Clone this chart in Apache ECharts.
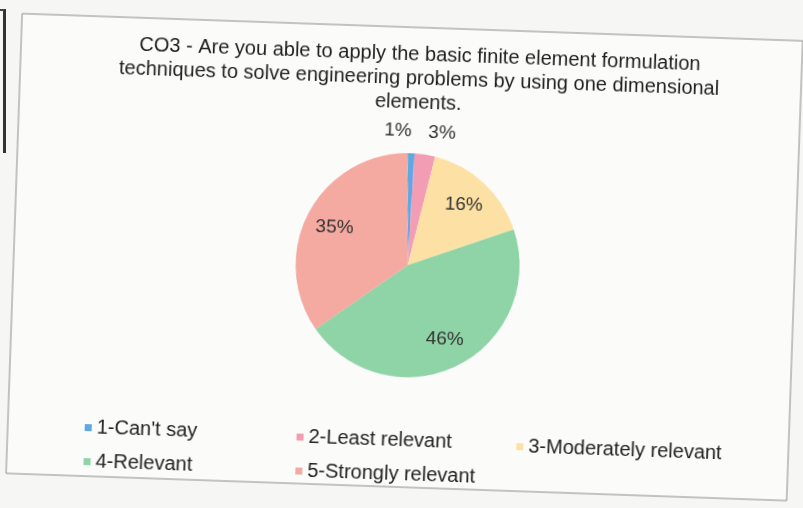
<!DOCTYPE html>
<html>
<head>
<meta charset="utf-8">
<script src="https://cdn.jsdelivr.net/npm/echarts@6/dist/echarts.min.js"></script>
<style>
  html, body { margin: 0; padding: 0; background: #f6f6f4; overflow: hidden; }
  #wrap { position: relative; width: 803px; height: 508px; }
  #chart { position: absolute; left: 0; top: 0; width: 803px; height: 508px; transform: rotate(2deg); transform-origin: 50% 50%; }
  #edge { position: absolute; left: 0; top: 9px; width: 3px; height: 142px; border-top: 2px solid #444; border-right: 3px solid #333; }
</style>
</head>
<body>
<div id="wrap">
  <div id="chart"></div>
  <div id="edge"></div>
</div>
<script>
// ---- data ----
const categories = ["1-Can't say", "2-Least relevant", "3-Moderately relevant", "4-Relevant", "5-Strongly relevant"];
const values = [1, 3, 16, 46, 35];
const colors = ['#5ea8e6', '#f39db4', '#fde1a4', '#8fd4a7', '#f4a9a1'];
const titleLines = [
  'CO3 - Are you able to apply the basic finite element formulation',
  'techniques to solve engineering problems by using one dimensional',
  'elements.'
];
const outsideLabels = [0, 1];          // small slices labelled outside
const legendColumns = [[0, 3], [1, 4], [2]];

// ---- chart ----
const chart = echarts.init(document.getElementById('chart'), null, { renderer: 'canvas' });
const FONT = '"Liberation Sans", Arial, sans-serif';
const center = [408, 265];
const R = 112;

const mainData = categories.map((name, i) => ({
  name: name,
  value: values[i],
  itemStyle: { color: colors[i] },
  label: { show: outsideLabels.indexOf(i) >= 0 }
}));
const labelData = categories.map((name, i) => ({
  name: name,
  value: values[i],
  itemStyle: { color: 'rgba(0,0,0,0)' },
  label: { show: outsideLabels.indexOf(i) < 0 }
}));

const legendLefts = [86, 298, 518];
const legendTops = [423, 425, 427];
const legends = legendColumns.map((col, k) => ({
  orient: 'vertical',
  left: legendLefts[k],
  top: legendTops[k],
  itemWidth: 7,
  itemHeight: 7,
  itemGap: 13,
  icon: 'rect',
  selectedMode: false,
  textStyle: { fontFamily: FONT, fontSize: 20, lineHeight: 21, color: '#222' },
  data: col.map(i => ({ name: categories[i], itemStyle: { color: colors[i] } }))
}));

const option = {
  backgroundColor: 'transparent',
  animation: false,
  title: {
    text: titleLines.join('\n'),
    left: 408,
    top: 37,
    textAlign: 'center',
    textStyle: { fontFamily: FONT, fontSize: 20, lineHeight: 24, fontWeight: 'normal', color: '#1e1e1e' }
  },
  legend: legends,
  graphic: [{
    type: 'rect',
    silent: true,
    z: -10,
    shape: { x: 14, y: 27, width: 781, height: 460 },
    style: { fill: '#fbfbfa', stroke: '#8c8c8c', lineWidth: 1 }
  }],
  series: [{
    type: 'pie',
    center: center,
    radius: [0, R],
    startAngle: 92,
    clockwise: true,
    avoidLabelOverlap: false,
    emphasis: { disabled: true },
    itemStyle: { borderWidth: 0 },
    label: {
      position: 'outside',
      formatter: '{c}%',
      fontFamily: FONT,
      fontSize: 19,
      color: '#333',
      distanceToLabelLine: 0
    },
    labelLine: { show: false, length: 22, length2: 0 },
    data: mainData
  }, {
    type: 'pie',
    silent: true,
    center: center,
    radius: [0, R * 1.42],
    startAngle: 92,
    clockwise: true,
    avoidLabelOverlap: false,
    emphasis: { disabled: true },
    label: {
      position: 'inside',
      formatter: '{c}%',
      fontFamily: FONT,
      fontSize: 19,
      color: '#333'
    },
    labelLine: { show: false },
    data: labelData
  }]
};
chart.setOption(option);
</script>
</body>
</html>
